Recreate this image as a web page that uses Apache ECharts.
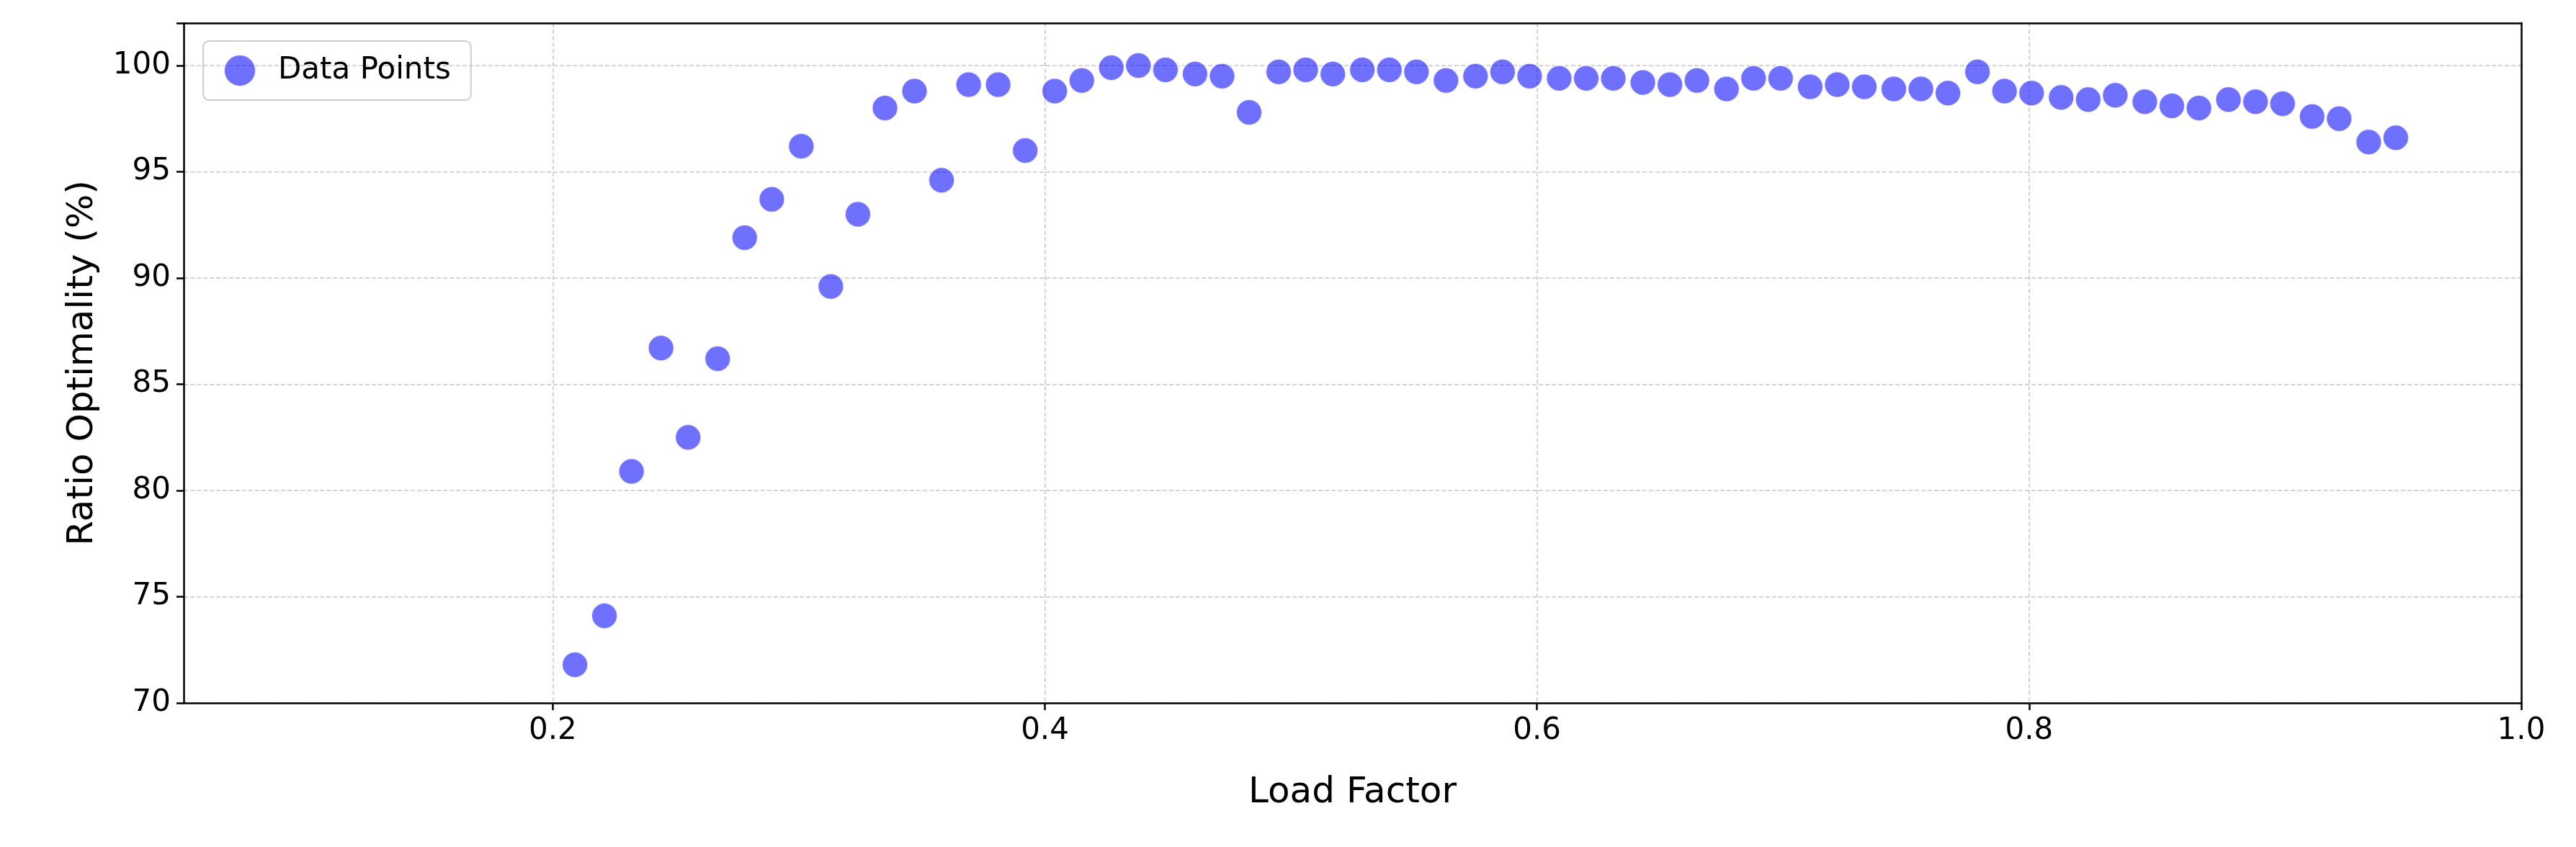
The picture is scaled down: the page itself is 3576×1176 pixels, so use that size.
<!DOCTYPE html>
<html>
<head>
<meta charset="utf-8">
<script src="https://cdn.jsdelivr.net/npm/echarts@6/dist/echarts.min.js"></script>
<style>html,body{margin:0;padding:0;background:#fff}#chart{width:3576px;height:1176px}</style>
</head>
<body>
<div id="chart"></div>
<script>
// load factor values (x)
var loadFactor = [0.209, 0.221, 0.232, 0.244, 0.255, 0.267, 0.278, 0.289, 0.301, 0.313,
    0.324, 0.335, 0.347, 0.358, 0.369, 0.381, 0.392, 0.404, 0.415, 0.427,
    0.438, 0.449, 0.461, 0.472, 0.483, 0.495, 0.506, 0.517, 0.529, 0.540,
    0.551, 0.563, 0.575, 0.586, 0.597, 0.609, 0.620, 0.631, 0.643, 0.654,
    0.665, 0.677, 0.688, 0.699, 0.711, 0.722, 0.733, 0.745, 0.756, 0.767,
    0.779, 0.790, 0.801, 0.813, 0.824, 0.835, 0.847, 0.858, 0.869, 0.881,
    0.892, 0.903, 0.915, 0.926, 0.938, 0.949];
// ratio optimality (%) values
var ratioOpt = [71.8, 74.1, 80.9, 86.7, 82.5, 86.2, 91.9, 93.7, 96.2, 89.6,
    93.0, 98.0, 98.8, 94.6, 99.1, 99.1, 96.0, 98.8, 99.3, 99.9,
    100.0, 99.8, 99.6, 99.5, 97.8, 99.7, 99.8, 99.6, 99.8, 99.8,
    99.7, 99.3, 99.5, 99.7, 99.5, 99.4, 99.4, 99.4, 99.2, 99.1,
    99.3, 98.9, 99.4, 99.4, 99.0, 99.1, 99.0, 98.9, 98.9, 98.7,
    99.7, 98.8, 98.7, 98.5, 98.4, 98.6, 98.3, 98.1, 98.0, 98.4,
    98.3, 98.2, 97.6, 97.5, 96.4, 96.6];
var xTicks = [0.2, 0.4, 0.6, 0.8, 1.0];

var points = loadFactor.map(function (x, i) { return [x, ratioOpt[i]]; });

var font = 'DejaVu Sans';
var gridLine = {show: true, lineStyle: {color: '#c8c8c8', type: 'dashed', width: 1.5}};
var chart = echarts.init(document.getElementById('chart'));
chart.setOption({
    animation: false,
    textStyle: {fontFamily: font},
    grid: {left: 255, right: 76, top: 32, bottom: 200},
    legend: {
        left: 282, top: 57,
        data: ['Data Points'],
        itemWidth: 44, itemHeight: 44, itemGap: 10,
        padding: [18, 28, 18, 28],
        borderColor: '#ccc', borderWidth: 2, borderRadius: 8,
        textStyle: {fontSize: 42, color: '#000', fontFamily: font, padding: [0, 0, 0, 26]}
    },
    xAxis: [{
        type: 'value', min: 0.05, max: 1.0,
        name: 'Load Factor', nameLocation: 'middle', nameGap: 100,
        nameTextStyle: {fontSize: 50, color: '#000', fontFamily: font},
        axisLine: {show: true, onZero: false, lineStyle: {color: '#000', width: 2.5}},
        axisTick: {show: true, length: 10, lineStyle: {color: '#000', width: 2.5},
            customValues: xTicks},
        axisLabel: {fontSize: 42, color: '#000', margin: 18, customValues: xTicks,
            formatter: function (v) { return v.toFixed(1); }},
        splitLine: gridLine
    }, {
        type: 'value', min: 0.05, max: 1.0, position: 'top',
        axisLine: {show: true, onZero: false, lineStyle: {color: '#000', width: 2.5}},
        axisTick: {show: false}, axisLabel: {show: false}, splitLine: {show: false}
    }],
    yAxis: [{
        type: 'value', min: 70, max: 102, interval: 5,
        name: 'Ratio Optimality (%)', nameLocation: 'middle', nameGap: 115,
        nameTextStyle: {fontSize: 50, color: '#000', fontFamily: font},
        axisLine: {show: true, onZero: false, lineStyle: {color: '#000', width: 2.5}},
        axisTick: {show: true, length: 10, lineStyle: {color: '#000', width: 2.5}},
        axisLabel: {fontSize: 42, color: '#000', margin: 18,
            formatter: function (v) { return v % 5 === 0 ? String(v) : ''; }},
        splitLine: gridLine
    }, {
        type: 'value', min: 70, max: 102, position: 'right',
        axisLine: {show: true, onZero: false, lineStyle: {color: '#000', width: 2.5}},
        axisTick: {show: false}, axisLabel: {show: false}, splitLine: {show: false}
    }],
    series: [{
        name: 'Data Points',
        type: 'scatter',
        data: points,
        symbolSize: 36,
        itemStyle: {color: 'rgba(0,0,255,0.7)', borderColor: '#fff', borderWidth: 2}
    }]
});
</script>
</body>
</html>
